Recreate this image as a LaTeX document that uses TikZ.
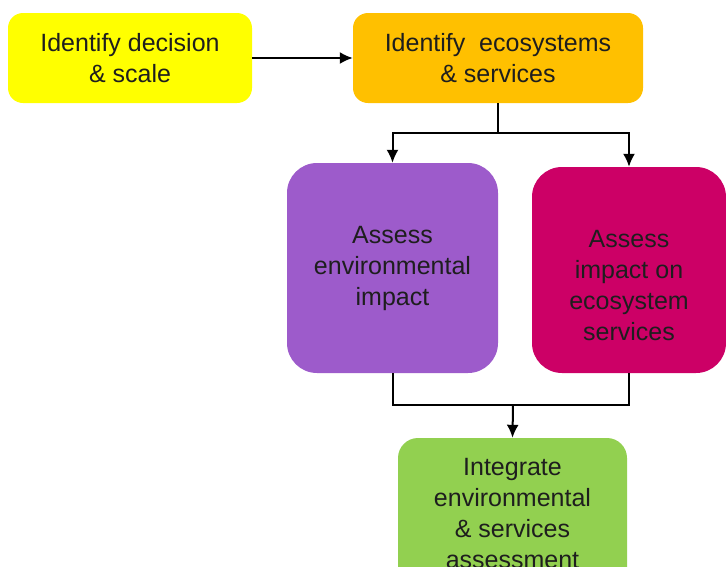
\documentclass[tikz,border=0pt]{standalone}
\usepackage{fontspec}
\setmainfont{Liberation Sans}
\usetikzlibrary{arrows.meta}
\definecolor{boxyellow}{HTML}{FFFF00}
\definecolor{boxorange}{HTML}{FFC000}
\definecolor{boxpurple}{HTML}{9D5BCB}
\definecolor{boxmagenta}{HTML}{CC0066}
\definecolor{boxgreen}{HTML}{92D050}
\definecolor{textdark}{HTML}{1E1E1E}

\tikzset{
    stepbox/.style={draw=none, align=center, text=textdark, inner sep=0pt,
        font=\fontsize{25}{31}\selectfont},
    conn/.style={line width=2pt, black},
    arr/.style={conn, -{Latex[length=13pt,width=12pt]}}
}

\begin{document}
\begin{tikzpicture}[x=1pt, y=-1pt]
        \useasboundingbox (0,0) rectangle (726,566);
        \clip (0,0) rectangle (726,566);

        \node[stepbox, fill=boxyellow, rounded corners=15pt, minimum width=244pt, minimum height=90pt] (decision) at (130,58) {Identify decision\\\& scale};

        \node[stepbox, fill=boxorange, rounded corners=15pt, minimum width=290pt, minimum height=90pt] (ecosys) at (498,58) {Identify \ ecosystems\\\& services};

        \node[stepbox, fill=boxpurple, rounded corners=30pt, minimum width=211pt, minimum height=210pt] (envimp) at (392.5,268) {Assess\\environmental\\impact};

        \node[stepbox, fill=boxmagenta, rounded corners=30pt, minimum width=194pt, minimum height=206pt] (svcimp) at (629,270) {\rule{0pt}{0pt}\\[18pt]Assess\\impact on\\ecosystem\\services};

        \node[stepbox, fill=boxgreen, rounded corners=20pt, minimum width=229pt, minimum height=152pt] (integ) at (512.5,514) {Integrate\\environmental\\\& services\\assessment};

        \coordinate (split) at (498,133);
        \coordinate (merge) at (513,405);

        \draw[arr] (decision) -- (ecosys);

        \draw[conn] (ecosys.south) -- (split);
        \draw[arr] (split) -| (envimp.north);
        \draw[arr] (split) -| (svcimp.north);

        \draw[conn] (envimp.south) |- (merge) -| (svcimp.south);
        \draw[arr] (merge) -- (integ.north);

    \end{tikzpicture}
\end{document}
